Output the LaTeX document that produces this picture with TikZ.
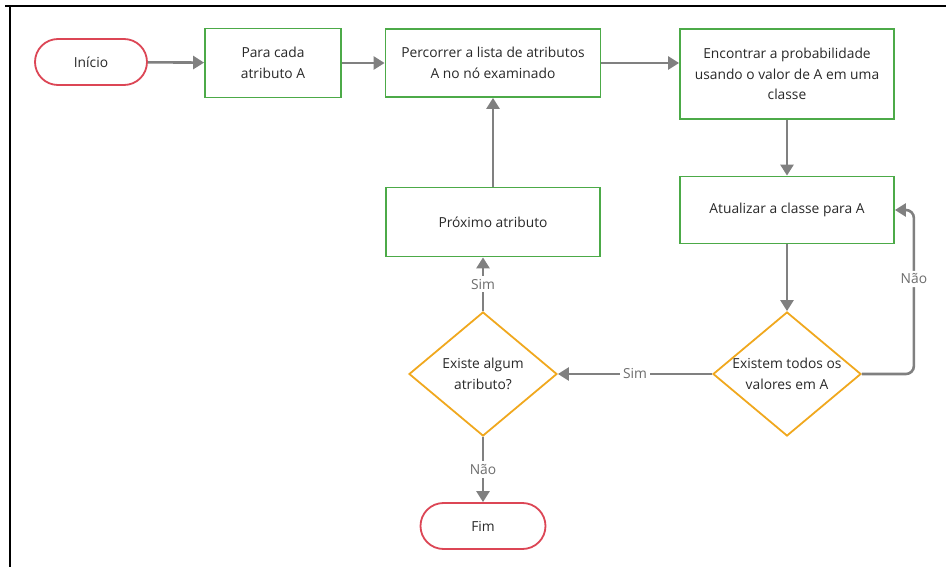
\documentclass[tikz,border=0pt]{standalone}
\usepackage{fontspec}
\setmainfont{Open Sans}
\usepackage{xcolor}
\usetikzlibrary{shapes.geometric, arrows.meta, positioning}
\definecolor{FlowGreen}{RGB}{76,170,72}
\definecolor{FlowRed}{RGB}{220,70,85}
\definecolor{FlowOrange}{RGB}{240,168,30}
\definecolor{FlowGray}{RGB}{128,128,128}
\definecolor{FlowText}{RGB}{40,40,40}

\begin{document}
\begin{tikzpicture}[
    x=1pt, y=-1pt,
    box/.style={rectangle, draw=FlowGreen, line width=1.8pt, minimum width=214pt, minimum height=68pt, align=center, text=FlowText, font=\fontsize{13.8}{20.5}\selectfont},
    term/.style={rectangle, rounded corners=23pt, draw=FlowRed, line width=1.8pt, minimum height=46pt, align=center, text=FlowText, font=\fontsize{13.8}{20.5}\selectfont},
    decision/.style={diamond, draw=FlowOrange, line width=1.8pt, aspect=1.19, minimum width=148pt, minimum height=124pt, inner sep=-4pt, align=center, text=FlowText, font=\fontsize{13.8}{20.5}\selectfont},
    arrow/.style={-{Triangle[length=11pt, width=13pt]}, line width=2.6pt, FlowGray},
    lbl/.style={fill=white, inner sep=3pt, text=FlowGray!85!black, font=\fontsize{13.8}{16}\selectfont}
]
    \useasboundingbox (0,0) rectangle (946,567);
    % frame of the figure
    \draw[line width=2pt] (5,6) -- (946,6);
    \draw[line width=2pt] (10,6) -- (10,567);
    % top row
    \node[term, minimum width=112pt] (start) at (91,62) {Início};
    \node[box, minimum width=136pt, minimum height=69pt] (each) at (273,63) {Para cada\\atributo A};
    \node[box, minimum width=215pt] (scan) at (493,63) {Percorrer a lista de atributos\\A no nó examinado};
    \node[box, minimum height=90pt] (prob) at (787,74) {Encontrar a probabilidade\\usando o valor de A em uma\\classe};
    % middle row
    \node[box, minimum height=69pt] (next) at (493,222) {Próximo atributo};
    \node[box, minimum height=67pt] (update) at (787,210) {Atualizar a classe para A};
    % decisions
    \node[decision] (anyattr) at (483,374) {Existe algum\\atributo?};
    \node[decision] (allvals) at (787,374) {Existem todos os\\valores em A};
    \node[term, minimum width=125pt] (stop) at (483,526) {Fim};
    \draw[arrow] (start) -- (each);
    \draw[arrow] (each) -- (scan);
    \draw[arrow] (scan.east) -- (scan.east -| prob.west);
    \draw[arrow] (prob) -- (update);
    \draw[arrow] (update) -- (allvals);
    \draw[arrow] (allvals) -- node[lbl] {Sim} (anyattr);
    \draw[arrow, rounded corners=8pt] (allvals.east) -- ++(52,0) |- node[lbl, pos=0.29] {Não} (update.east);
    \draw[arrow] (anyattr.north) -- node[lbl] {Sim} (anyattr.north |- next.south);
    \draw[arrow] (next) -- (scan);
    \draw[arrow] (anyattr) -- node[lbl] {Não} (stop);
\end{tikzpicture}
\end{document}
